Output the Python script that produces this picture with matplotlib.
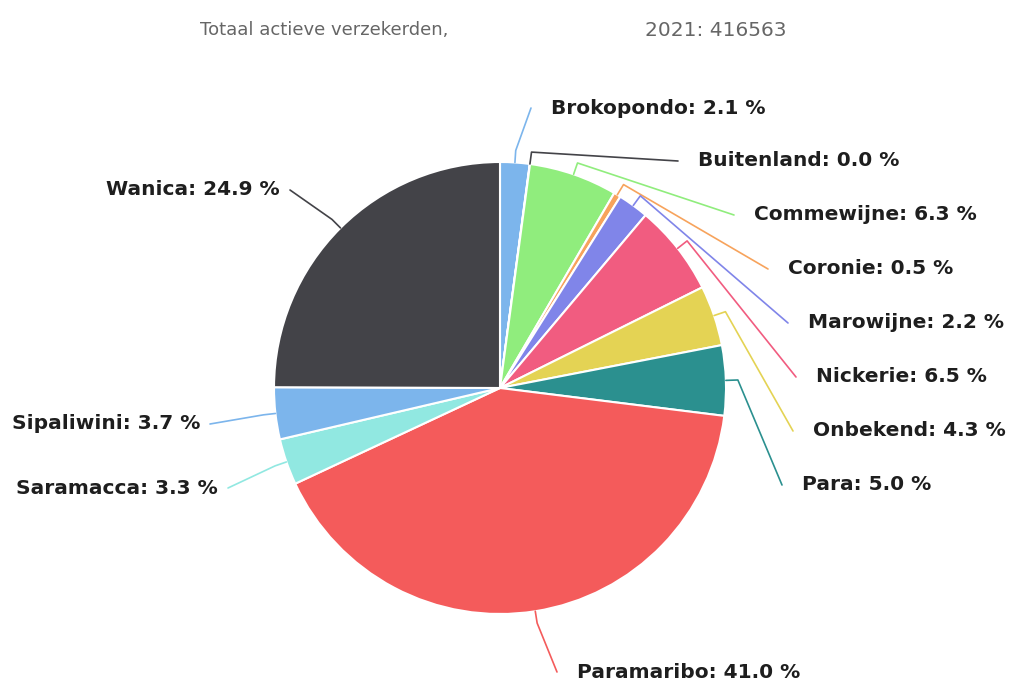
import numpy as np
import matplotlib.pyplot as plt

W, H = 1012, 683

# Data
regions = ["Brokopondo", "Buitenland", "Commewijne", "Coronie", "Marowijne",
           "Nickerie", "Onbekend", "Para", "Paramaribo", "Saramacca",
           "Sipaliwini", "Wanica"]
shares = [2.1, 0.02, 6.3, 0.5, 2.2, 6.5, 4.3, 5.0, 41.0, 3.3, 3.7, 24.9]
shown = ["2.1", "0.0", "6.3", "0.5", "2.2", "6.5", "4.3", "5.0", "41.0",
         "3.3", "3.7", "24.9"]
title_left = "Totaal actieve verzekerden,"
title_right = "2021: 416563"

colours = ["#7cb5ec", "#434348", "#90ed7d", "#f7a35c", "#8085e9", "#f15c80",
           "#e4d354", "#2b908f", "#f45b5b", "#91e8e1", "#7cb5ec", "#434348"]

# label layout in pixels (x of text anchor, y centre, alignment)
label_pos = [(551, 108, "left"), (698, 161, "left"), (754, 215, "left"),
             (788, 269, "left"), (808, 323, "left"), (816, 377, "left"),
             (813, 431, "left"), (802, 485, "left"), (577, 672, "left"),
             (218, 488, "right"), (200, 424, "right"), (280, 190, "right")]

cx, cy, R = 500, 388, 226

fig = plt.figure(figsize=(W / 100, H / 100), dpi=100)
ax = fig.add_axes([0, 0, 1, 1])

wedges, _ = ax.pie(shares, colors=colours, startangle=90, counterclock=False,
                   center=(cx, H - cy), radius=R, frame=True,
                   wedgeprops=dict(edgecolor="white", linewidth=1.5))
ax.set_xlim(0, W)
ax.set_ylim(0, H)
ax.set_aspect("equal")
ax.axis("off")

for w, name, val, col, (lx, ly, ha) in zip(wedges, regions, shown, colours, label_pos):
    mid = np.deg2rad((w.theta1 + w.theta2) / 2)
    x0 = cx + R * np.cos(mid)
    y0 = (H - cy) + R * np.sin(mid)
    x1 = cx + (R + 12) * np.cos(mid)
    y1 = (H - cy) + (R + 12) * np.sin(mid)
    ex = lx - 20 if ha == "left" else lx + 10
    ey = H - ly
    ax.plot([x0, x1, ex], [y0, y1, ey], color=col, lw=1.2,
            solid_capstyle="round", solid_joinstyle="round")
    ax.text(lx, ey, f"{name}: {val} %", ha=ha, va="center",
            fontsize=14.5, fontweight="bold", color="#1e1e1e")

ax.text(200, H - 30, title_left, ha="left", va="center", fontsize=13,
        color="#666666")
ax.text(645, H - 30, title_right, ha="left", va="center", fontsize=14.5,
        color="#666666")

plt.savefig("out.png", dpi=100)
